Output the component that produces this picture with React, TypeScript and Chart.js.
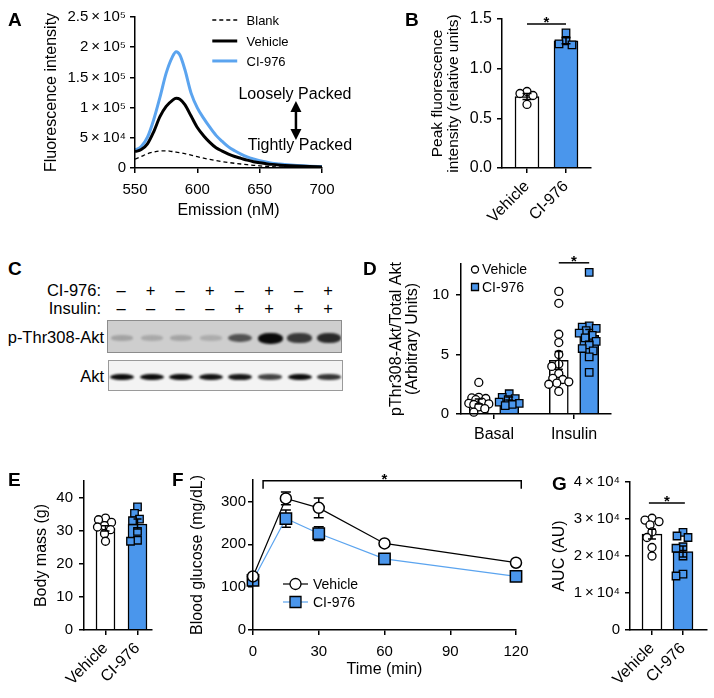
import React, { useEffect, useRef } from "react";
import { Chart, registerables } from "chart.js";

Chart.register(...registerables);

const FONT = "'Liberation Sans', Arial, Helvetica, sans-serif";
Chart.defaults.font.family = FONT;
Chart.defaults.color = "#000";

const BLUE = "#4A96EC";
const LINE_BLUE = "#5BA4EF";

// ---------- Panel A: emission spectra ----------
const wavelengths = [550, 555, 560, 565, 570, 575, 580, 583, 586, 590, 595, 600, 605, 610, 615, 620, 625, 630, 635, 640, 645, 650, 655, 660, 665, 670, 680, 690, 700];
const blankIntensity = [14500, 19000, 23500, 26500, 28300, 28500, 27300, 26300, 25300, 23800, 21300, 18700, 16300, 14200, 12300, 10600, 9100, 7800, 6600, 5500, 4500, 3600, 2800, 2200, 1700, 1300, 800, 500, 300];
const vehicleIntensity = [27000, 30500, 40000, 60000, 85000, 102000, 112000, 115500, 114000, 105000, 86000, 67000, 53500, 42500, 33500, 28000, 23000, 19000, 16000, 13000, 10500, 8600, 7200, 6000, 5000, 4300, 3200, 2400, 1800];
const ci976Intensity = [29800, 35500, 51000, 80000, 117000, 157000, 184000, 192500, 187000, 163000, 124000, 99500, 82500, 67500, 54000, 44000, 35000, 28500, 23000, 18500, 15000, 12000, 9800, 8000, 6800, 5700, 4100, 3000, 2400];
const aXTicks = [550, 600, 650, 700];
const aYTicks = [0, 50000, 100000, 150000, 200000, 250000];
const aYTickLabels = ["0", "5\u2009×\u200910⁴", "1\u2009×\u200910⁵", "1.5\u2009×\u200910⁵", "2\u2009×\u200910⁵", "2.5\u2009×\u200910⁵"];
const aLegendLabels = ["Blank", "Vehicle", "CI-976"];

// ---------- Panel B: peak fluorescence ----------
const bGroups = ["Vehicle", "CI-976"];
const bVehiclePoints = [0.77, 0.75, 0.73, 0.64];
const bCI976Points = [1.36, 1.28, 1.25, 1.24];
const bMeans = [0.72, 1.28];
const bSem = [0.03, 0.03];
const bYTicks = [0, 0.5, 1.0, 1.5];
const bYTickLabels = ["0.0", "0.5", "1.0", "1.5"];

// ---------- Panel C: western blot ----------
const ci976Lanes = ["–", "+", "–", "+", "–", "+", "–", "+"];
const insulinLanes = ["–", "–", "–", "–", "+", "+", "+", "+"];
const pAktBand = [0.34, 0.3, 0.33, 0.28, 0.72, 1.0, 0.82, 0.88];
const aktBand = [0.95, 0.95, 0.95, 0.92, 0.9, 0.72, 0.95, 0.78];

// ---------- Panel D: pAkt / total Akt ----------
const dGroups = ["Basal", "Insulin"];
const dVehicleBasal = [2.65, 1.4, 1.35, 1.3, 1.2, 1.0, 0.9, 0.85, 0.8, 0.6, 0.45, 0.15];
const dCI976Basal = [1.7, 1.4, 1.3, 1.2, 1.0, 0.9, 0.8, 0.7];
const dVehicleInsulin = [10.3, 9.3, 6.7, 6.0, 5.0, 4.2, 4.0, 3.4, 3.0, 2.9, 2.7, 2.6, 2.5, 1.9];
const dCI976Insulin = [11.9, 7.4, 7.3, 7.2, 7.0, 6.8, 6.6, 6.4, 6.1, 5.8, 5.5, 5.3, 4.8, 3.5];
const dVehicleMean = [1.05, 4.5];
const dVehicleSem = [0.2, 0.75];
const dCI976Mean = [1.3, 6.6];
const dCI976Sem = [0.12, 0.5];
const dYTicks = [0, 5, 10];
const dYTickLabels = ["0", "5", "10"];

// ---------- Panel E: body mass ----------
const eGroups = ["Vehicle", "CI-976"];
const eVehiclePoints = [33.8, 33.3, 32.5, 31.5, 31.1, 30.3, 29.1, 26.8];
const eCI976Points = [37.2, 35.2, 33.5, 33.0, 29.8, 27.1, 26.8];
const eMeans = [30.7, 32.0];
const eSem = [0.8, 1.5];
const eYTicks = [0, 10, 20, 30, 40];
const eYTickLabels = ["0", "10", "20", "30", "40"];

// ---------- Panel F: glucose tolerance ----------
const fTime = [0, 15, 30, 60, 120];
const fVehicle = [125, 307, 285, 202, 157];
const fVehicleSem = [6, 15, 23, 6, 7];
const fCI976 = [116, 260, 225, 166, 125];
const fCI976Sem = [6, 20, 16, 6, 6];
const fXTicks = [0, 30, 60, 90, 120];
const fYTicks = [0, 100, 200, 300];

// ---------- Panel G: AUC ----------
const gGroups = ["Vehicle", "CI-976"];
const gVehiclePoints = [30200, 29700, 29300, 28400, 26500, 25000, 22300, 20000];
const gCI976Points = [26400, 25400, 25000, 22500, 22100, 20000, 15100, 14600];
const gMeans = [25900, 21200];
const gSem = [1300, 1500];
const gYTicks = [0, 10000, 20000, 30000, 40000];
const gYTickLabels = ["0", "1\u2009×\u200910⁴", "2\u2009×\u200910⁴", "3\u2009×\u200910⁴", "4\u2009×\u200910⁴"];

// ---------- layout ----------
type Rect = [number, number, number, number];
type Geo = { canvas: Rect; area: [number, number, number, number] };
const GEO: Record<string, Geo> = {
  A: { canvas: [0, 0, 362, 226], area: [135, 17, 322, 168] },
  B: { canvas: [362, 0, 240, 226], area: [502, 19, 591, 168] },
  D: { canvas: [362, 226, 352, 224], area: [461, 264, 611, 414] },
  E: { canvas: [0, 452, 160, 246], area: [84, 481, 152, 630] },
  F: { canvas: [160, 452, 385, 246], area: [253, 480, 516, 630] },
  G: { canvas: [545, 452, 169, 246], area: [630, 482, 707, 630] },
};

function layoutOf(g: Geo) {
  return {
    padding: {
      left: 0,
      top: g.area[1] - g.canvas[1],
      right: g.canvas[0] + g.canvas[2] - g.area[2],
      bottom: 0,
    },
  };
}

function baseAxis(size: number, pad: number, ticks: number[], labels: string[]) {
  return {
    type: "linear",
    grid: { display: true, drawOnChartArea: false, drawTicks: true, tickLength: 5, tickWidth: 1.5, tickColor: "#000", color: "#000", lineWidth: 1.5, offset: false },
    border: { display: true, color: "#000", width: 1.5, z: 1 },
    offset: false,
    ticks: {
      color: "#000",
      font: { family: FONT, size },
      padding: pad,
      autoSkip: false,
      maxRotation: 0,
      minRotation: 0,
      callback: (v: number) => {
        const i = ticks.findIndex((t) => Math.abs(t - v) < 1e-9);
        return i >= 0 ? labels[i] : "";
      },
    },
    afterBuildTicks: (s: any) => {
      s.ticks = ticks.map((v) => ({ value: v }));
    },
  };
}

function yAxis(g: Geo, size: number, pad: number, max: number, ticks: number[], labels: string[], title: any) {
  return {
    ...baseAxis(size, pad, ticks, labels),
    min: 0,
    max,
    title,
    afterFit: (s: any) => {
      s.width = g.area[0] - g.canvas[0];
    },
  };
}

function xAxis(g: Geo, size: number, pad: number, min: number, max: number, ticks: number[], labels: string[], rotate: boolean, title?: any) {
  const a: any = baseAxis(size, pad, ticks, labels);
  if (rotate) {
    a.ticks.minRotation = 45;
    a.ticks.maxRotation = 45;
  }
  return {
    ...a,
    min,
    max,
    title: title || { display: false },
    afterFit: (s: any) => {
      s.height = g.canvas[1] + g.canvas[3] - g.area[3];
    },
  };
}

function yTitle(text: string | string[], size: number, firstCenterX: number, g: Geo, lineHeight = 1.2) {
  return {
    display: true,
    text,
    color: "#000",
    font: { family: FONT, size, lineHeight },
    padding: { top: firstCenterX - g.canvas[0] - (size * lineHeight) / 2, bottom: 0 },
  };
}

function xTitle(text: string, size: number, centerY: number, g: Geo) {
  const lh = size * 1.2;
  return {
    display: true,
    text,
    color: "#000",
    font: { family: FONT, size, lineHeight: 1.2 },
    padding: { top: 0, bottom: g.canvas[1] + g.canvas[3] - centerY - lh / 2 },
  };
}

function swarm(values: number[], cx: number, pxPerX: number, pxPerY: number, diam: number, maxHalf: number) {
  const placed: { dx: number; py: number }[] = [];
  return values.map((v) => {
    const py = v * pxPerY;
    let best = 0;
    let bestScore = -1;
    const limit = Math.floor(maxHalf);
    for (let k = 0; k <= 2 * limit; k++) {
      const dx = k === 0 ? 0 : (k % 2 === 1 ? -1 : 1) * Math.ceil(k / 2);
      let minD = Infinity;
      for (const p of placed) minD = Math.min(minD, Math.hypot(p.dx - dx, p.py - py));
      if (minD >= diam) {
        best = dx;
        bestScore = Infinity;
        break;
      }
      if (minD > bestScore) {
        bestScore = minD;
        best = dx;
      }
    }
    placed.push({ dx: best, py });
    return { x: cx + best / pxPerX, y: v };
  });
}

function drawErrorBar(ctx: CanvasRenderingContext2D, xs: any, ys: any, x: number, mean: number, sem: number, cap: number) {
  const px = xs.getPixelForValue(x);
  const t = ys.getPixelForValue(mean + sem);
  const b = ys.getPixelForValue(mean - sem);
  ctx.save();
  ctx.strokeStyle = "#000";
  ctx.lineWidth = 1.5;
  ctx.setLineDash([]);
  ctx.beginPath();
  ctx.moveTo(px, t);
  ctx.lineTo(px, b);
  ctx.moveTo(px - cap / 2, t);
  ctx.lineTo(px + cap / 2, t);
  ctx.moveTo(px - cap / 2, b);
  ctx.lineTo(px + cap / 2, b);
  ctx.stroke();
  ctx.restore();
}

type SigSpec = { x1: number; x2: number; y: number; starX: number; drop?: number };
function drawSig(ctx: CanvasRenderingContext2D, xs: any, ys: any, s: SigSpec) {
  const x1 = xs.getPixelForValue(s.x1);
  const x2 = xs.getPixelForValue(s.x2);
  const y = ys.getPixelForValue(s.y);
  ctx.save();
  ctx.strokeStyle = "#000";
  ctx.lineWidth = 1.5;
  ctx.beginPath();
  if (s.drop) {
    ctx.moveTo(x1, y + s.drop);
    ctx.lineTo(x1, y);
    ctx.lineTo(x2, y);
    ctx.lineTo(x2, y + s.drop);
  } else {
    ctx.moveTo(x1, y);
    ctx.lineTo(x2, y);
  }
  ctx.stroke();
  ctx.fillStyle = "#000";
  ctx.font = `bold 15px ${FONT}`;
  ctx.textAlign = "center";
  ctx.textBaseline = "alphabetic";
  ctx.fillText("*", xs.getPixelForValue(s.starX), y + 3);
  ctx.restore();
}

function drawMarker(ctx: CanvasRenderingContext2D, kind: string, x: number, y: number, size: number, fill: string) {
  ctx.save();
  ctx.fillStyle = fill;
  ctx.strokeStyle = "#000";
  ctx.lineWidth = 1.3;
  ctx.setLineDash([]);
  ctx.beginPath();
  if (kind === "circle") ctx.arc(x, y, size / 2, 0, Math.PI * 2);
  else ctx.rect(x - size / 2, y - size / 2, size, size);
  ctx.fill();
  ctx.stroke();
  ctx.restore();
}

// ---------- chart builders ----------
function buildA() {
  const g = GEO.A;
  const pts = (vals: number[]) => wavelengths.map((w, i) => ({ x: w, y: vals[i] }));
  const common = { pointRadius: 0, cubicInterpolationMode: "monotone", fill: false };
  return {
    type: "line",
    data: {
      datasets: [
        { label: aLegendLabels[0], data: pts(blankIntensity), borderColor: "#000", borderWidth: 1.3, borderDash: [4, 3], ...common },
        { label: aLegendLabels[1], data: pts(vehicleIntensity), borderColor: "#000", borderWidth: 3, ...common },
        { label: aLegendLabels[2], data: pts(ci976Intensity), borderColor: LINE_BLUE, borderWidth: 3, ...common },
      ],
    },
    options: {
      responsive: false,
      animation: false,
      events: [],
      layout: layoutOf(g),
      plugins: { legend: { display: false }, tooltip: { enabled: false } },
      scales: {
        x: xAxis(g, 15, 8, 550, 700, aXTicks, aXTicks.map(String), false, xTitle("Emission (nM)", 16, 211, g)),
        y: yAxis(g, 15, 4, 250000, aYTicks, aYTickLabels, yTitle("Fluorescence intensity", 16, 52, g)),
      },
    },
    plugins: [
      {
        id: "aOverlay",
        afterDraw(chart: any) {
          const { ctx } = chart;
          const xs = chart.scales.x;
          const ys = chart.scales.y;
          const rows = [
            { color: "#000", width: 1.3, dash: [4, 3], v: 245000 },
            { color: "#000", width: 3, dash: [], v: 210300 },
            { color: LINE_BLUE, width: 3, dash: [], v: 177200 },
          ];
          ctx.save();
          rows.forEach((r, i) => {
            const y = ys.getPixelForValue(r.v);
            ctx.strokeStyle = r.color;
            ctx.lineWidth = r.width;
            ctx.setLineDash(r.dash);
            ctx.beginPath();
            ctx.moveTo(xs.getPixelForValue(612), y);
            ctx.lineTo(xs.getPixelForValue(632), y);
            ctx.stroke();
            ctx.setLineDash([]);
            ctx.fillStyle = "#000";
            ctx.font = `13px ${FONT}`;
            ctx.textAlign = "left";
            ctx.textBaseline = "middle";
            ctx.fillText(aLegendLabels[i], xs.getPixelForValue(639.5), y + 1);
          });
          ctx.font = `16px ${FONT}`;
          ctx.textAlign = "center";
          ctx.textBaseline = "middle";
          ctx.fillText("Loosely Packed", xs.getPixelForValue(678.3), ys.getPixelForValue(120900));
          ctx.fillText("Tightly Packed", xs.getPixelForValue(682.3), ys.getPixelForValue(36400));
          const ax = xs.getPixelForValue(679.1);
          const top = ys.getPixelForValue(110950);
          const bot = ys.getPixelForValue(46400);
          ctx.strokeStyle = "#000";
          ctx.lineWidth = 2.5;
          ctx.beginPath();
          ctx.moveTo(ax, top + 8);
          ctx.lineTo(ax, bot - 8);
          ctx.stroke();
          ctx.beginPath();
          ctx.moveTo(ax, top);
          ctx.lineTo(ax - 5.5, top + 11);
          ctx.lineTo(ax + 5.5, top + 11);
          ctx.closePath();
          ctx.moveTo(ax, bot);
          ctx.lineTo(ax - 5.5, bot - 11);
          ctx.lineTo(ax + 5.5, bot - 11);
          ctx.closePath();
          ctx.fill();
          ctx.restore();
        },
      },
    ],
  };
}

type BarSpec = { x: number; mean: number; sem: number; points: number[]; fill: string; marker: string };
type BarPanel = {
  g: Geo;
  xZero: number;
  xOne: number;
  bars: BarSpec[];
  thickness: number;
  xTicks: number[];
  xLabels: string[];
  xFont: number;
  xPad: number;
  rotate: boolean;
  yMax: number;
  yTicks: number[];
  yLabels: string[];
  yFont: number;
  yPad: number;
  title: any;
  cap: number;
  sig?: SigSpec;
  legend?: boolean;
};

function buildBars(p: BarPanel) {
  const g = p.g;
  const pxPerX = p.xOne - p.xZero;
  const xMin = -(p.xZero - g.area[0]) / pxPerX;
  const xMax = xMin + (g.area[2] - g.area[0]) / pxPerX;
  const pxPerY = (g.area[3] - g.area[1]) / p.yMax;
  const scatterSets = p.bars.map((b) => ({
    type: "scatter",
    order: 1,
    clip: false,
    data: swarm(b.points, b.x, pxPerX, pxPerY, 7, p.thickness / 2 + 1),
    pointStyle: b.marker,
    pointRadius: b.marker === "rect" ? 5.3 : 4,
    pointBackgroundColor: b.marker === "rect" ? BLUE : "#fff",
    pointBorderColor: "#000",
    pointBorderWidth: 1.3,
  }));
  const barSets = p.bars.map((b) => ({
    type: "bar",
    order: 2,
    data: [{ x: b.x, y: b.mean }],
    backgroundColor: b.fill,
    borderColor: "#000",
    borderWidth: 1.5,
    borderSkipped: "start",
    barThickness: p.thickness,
    grouped: false,
  }));
  return {
    type: "bar",
    data: { datasets: [...scatterSets, ...barSets] },
    options: {
      responsive: false,
      animation: false,
      events: [],
      layout: layoutOf(g),
      plugins: { legend: { display: false }, tooltip: { enabled: false } },
      scales: {
        x: xAxis(g, p.xFont, p.xPad, xMin, xMax, p.xTicks, p.xLabels, p.rotate),
        y: yAxis(g, p.yFont, p.yPad, p.yMax, p.yTicks, p.yLabels, p.title),
      },
    },
    plugins: [
      {
        id: "barExtras",
        afterDatasetsDraw(chart: any) {
          const { ctx } = chart;
          const xs = chart.scales.x;
          const ys = chart.scales.y;
          p.bars.forEach((b) => drawErrorBar(ctx, xs, ys, b.x, b.mean, b.sem, p.cap));
          if (p.sig) drawSig(ctx, xs, ys, p.sig);
          if (p.legend) {
            const a = chart.chartArea;
            const rows = [
              { kind: "circle", fill: "#fff", label: "Vehicle", dy: 5.5, size: 7 },
              { kind: "rect", fill: BLUE, label: "CI-976", dy: 23, size: 7 },
            ];
            rows.forEach((r) => {
              drawMarker(ctx, r.kind, a.left + 14, a.top + r.dy, r.size, r.fill);
              ctx.save();
              ctx.fillStyle = "#000";
              ctx.font = `14px ${FONT}`;
              ctx.textAlign = "left";
              ctx.textBaseline = "middle";
              ctx.fillText(r.label, a.left + 21, a.top + r.dy + 1);
              ctx.restore();
            });
          }
        },
      },
    ],
  };
}

function buildB() {
  const g = GEO.B;
  return buildBars({
    g,
    xZero: 527,
    xOne: 566,
    bars: [
      { x: 0, mean: bMeans[0], sem: bSem[0], points: bVehiclePoints, fill: "#fff", marker: "circle" },
      { x: 1, mean: bMeans[1], sem: bSem[1], points: bCI976Points, fill: BLUE, marker: "rect" },
    ],
    thickness: 24,
    xTicks: [0, 1],
    xLabels: bGroups,
    xFont: 16,
    xPad: 4,
    rotate: true,
    yMax: 1.5,
    yTicks: bYTicks,
    yLabels: bYTickLabels,
    yFont: 16,
    yPad: 5,
    title: yTitle(["Peak fluorescence", "intensity (relative units)"], 15.5, 438, g, 1.0),
    cap: 9,
    sig: { x1: 0, x2: 1, y: 1.45, starX: 0.5 },
  });
}

function buildD() {
  const g = GEO.D;
  return buildBars({
    g,
    xZero: 494,
    xOne: 574,
    bars: [
      { x: -0.19, mean: dVehicleMean[0], sem: dVehicleSem[0], points: dVehicleBasal, fill: "#fff", marker: "circle" },
      { x: 0.19, mean: dCI976Mean[0], sem: dCI976Sem[0], points: dCI976Basal, fill: BLUE, marker: "rect" },
      { x: 0.81, mean: dVehicleMean[1], sem: dVehicleSem[1], points: dVehicleInsulin, fill: "#fff", marker: "circle" },
      { x: 1.19, mean: dCI976Mean[1], sem: dCI976Sem[1], points: dCI976Insulin, fill: BLUE, marker: "rect" },
    ],
    thickness: 19,
    xTicks: [0, 1],
    xLabels: dGroups,
    xFont: 16,
    xPad: 6,
    rotate: false,
    yMax: 12.6,
    yTicks: dYTicks,
    yLabels: dYTickLabels,
    yFont: 15,
    yPad: 7,
    title: yTitle(["pThr308-Akt/Total Akt", "(Arbitrary Units)"], 16, 397, g, 1.0),
    cap: 8,
    sig: { x1: 0.81, x2: 1.19, y: 12.7, starX: 1.0 },
    legend: true,
  });
}

function buildE() {
  const g = GEO.E;
  return buildBars({
    g,
    xZero: 105.5,
    xOne: 137.5,
    bars: [
      { x: 0, mean: eMeans[0], sem: eSem[0], points: eVehiclePoints, fill: "#fff", marker: "circle" },
      { x: 1, mean: eMeans[1], sem: eSem[1], points: eCI976Points, fill: BLUE, marker: "rect" },
    ],
    thickness: 19,
    xTicks: [0, 1],
    xLabels: eGroups,
    xFont: 16,
    xPad: 4,
    rotate: true,
    yMax: 45,
    yTicks: eYTicks,
    yLabels: eYTickLabels,
    yFont: 15,
    yPad: 6,
    title: yTitle("Body mass (g)", 16, 42, g),
    cap: 8,
  });
}

function buildG() {
  const g = GEO.G;
  return buildBars({
    g,
    xZero: 652,
    xOne: 683,
    bars: [
      { x: 0, mean: gMeans[0], sem: gSem[0], points: gVehiclePoints, fill: "#fff", marker: "circle" },
      { x: 1, mean: gMeans[1], sem: gSem[1], points: gCI976Points, fill: BLUE, marker: "rect" },
    ],
    thickness: 20,
    xTicks: [0, 1],
    xLabels: gGroups,
    xFont: 16,
    xPad: 4,
    rotate: true,
    yMax: 40000,
    yTicks: gYTicks,
    yLabels: gYTickLabels,
    yFont: 15,
    yPad: 5,
    title: yTitle("AUC (AU)", 16, 560, g),
    cap: 8,
    sig: { x1: -0.1, x2: 1.06, y: 34300, starX: 0.48 },
  });
}

function buildF() {
  const g = GEO.F;
  return {
    type: "line",
    data: {
      datasets: [
        {
          label: "Vehicle",
          data: fTime.map((t, i) => ({ x: t, y: fVehicle[i] })),
          borderColor: "#000",
          borderWidth: 1.2,
          pointStyle: "circle",
          pointRadius: 5.5,
          pointBackgroundColor: "#fff",
          pointBorderColor: "#000",
          pointBorderWidth: 1.5,
          clip: false,
          tension: 0,
        },
        {
          label: "CI-976",
          data: fTime.map((t, i) => ({ x: t, y: fCI976[i] })),
          borderColor: LINE_BLUE,
          borderWidth: 1.2,
          pointStyle: "rect",
          pointRadius: 8,
          pointBackgroundColor: BLUE,
          pointBorderColor: "#000",
          pointBorderWidth: 1.5,
          clip: false,
          tension: 0,
        },
      ],
    },
    options: {
      responsive: false,
      animation: false,
      events: [],
      layout: layoutOf(g),
      plugins: { legend: { display: false }, tooltip: { enabled: false } },
      scales: {
        x: xAxis(g, 15, 8, 0, 120, fXTicks, fXTicks.map(String), false, xTitle("Time (min)", 16, 670, g)),
        y: yAxis(g, 15, 2, 350, fYTicks, fYTicks.map(String), yTitle("Blood glucose (mg/dL)", 16, 198, g)),
      },
    },
    plugins: [
      {
        id: "fExtras",
        beforeDatasetsDraw(chart: any) {
          const { ctx } = chart;
          const xs = chart.scales.x;
          const ys = chart.scales.y;
          fTime.forEach((t, i) => {
            drawErrorBar(ctx, xs, ys, t, fCI976[i], fCI976Sem[i], 10);
            drawErrorBar(ctx, xs, ys, t, fVehicle[i], fVehicleSem[i], 10);
          });
        },
        afterDraw(chart: any) {
          const { ctx } = chart;
          const xs = chart.scales.x;
          const ys = chart.scales.y;
          drawSig(ctx, xs, ys, { x1: 4.6, x2: 122.4, y: 348, starX: 60, drop: 8 });
          const a = chart.chartArea;
          const rows = [
            { color: "#000", kind: "circle", fill: "#fff", size: 11, label: "Vehicle", dy: 104 },
            { color: LINE_BLUE, kind: "rect", fill: BLUE, size: 11, label: "CI-976", dy: 122 },
          ];
          rows.forEach((r) => {
            const y = a.top + r.dy;
            ctx.save();
            ctx.strokeStyle = r.color;
            ctx.lineWidth = 1.2;
            ctx.beginPath();
            ctx.moveTo(a.left + 30, y);
            ctx.lineTo(a.left + 55, y);
            ctx.stroke();
            ctx.restore();
            drawMarker(ctx, r.kind, a.left + 42.5, y, r.size, r.fill);
            ctx.save();
            ctx.fillStyle = "#000";
            ctx.font = `14px ${FONT}`;
            ctx.textAlign = "left";
            ctx.textBaseline = "middle";
            ctx.fillText(r.label, a.left + 60, y + 1);
            ctx.restore();
          });
        },
      },
    ],
  };
}

function ChartCanvas({ rect, build }: { rect: Rect; build: () => any }) {
  const ref = useRef<HTMLCanvasElement | null>(null);
  useEffect(() => {
    if (!ref.current) return;
    const chart = new Chart(ref.current, build() as any);
    return () => chart.destroy();
  }, []);
  return (
    <div style={{ position: "absolute", left: rect[0], top: rect[1], width: rect[2], height: rect[3] }}>
      <canvas ref={ref} width={rect[2]} height={rect[3]} style={{ display: "block", width: rect[2], height: rect[3] }} />
    </div>
  );
}

const textBase: React.CSSProperties = {
  position: "absolute",
  fontFamily: FONT,
  fontSize: 16.5,
  lineHeight: "20px",
  color: "#000",
  whiteSpace: "nowrap",
};

function Blot() {
  const laneX = (i: number) => 121 + i * 29.6;
  const pBox = { left: 107, top: 320, width: 235, height: 33 };
  const aBox = { left: 108, top: 360, width: 235, height: 31 };
  return (
    <>
      <div style={{ ...textBase, left: 0, top: 280, width: 101, textAlign: "right" }}>CI-976:</div>
      <div style={{ ...textBase, left: 0, top: 298, width: 101, textAlign: "right" }}>Insulin:</div>
      {ci976Lanes.map((s, i) => (
        <div key={"c" + i} style={{ ...textBase, left: laneX(i) - 10, top: 280, width: 20, textAlign: "center" }}>
          {s}
        </div>
      ))}
      {insulinLanes.map((s, i) => (
        <div key={"i" + i} style={{ ...textBase, left: laneX(i) - 10, top: 298, width: 20, textAlign: "center" }}>
          {s}
        </div>
      ))}
      <div style={{ ...textBase, left: 0, top: 327, width: 104, textAlign: "right" }}>p-Thr308-Akt</div>
      <div
        style={{
          position: "absolute",
          ...pBox,
          background: "#cecece",
          border: "1px solid #8c8c8c",
          boxSizing: "border-box",
          overflow: "hidden",
        }}
      >
        {pAktBand.map((v, i) => {
          const w = 21 + v * 4;
          const h = 3 + v * 8;
          return (
            <div
              key={i}
              style={{
                position: "absolute",
                left: laneX(i) - pBox.left - w / 2,
                top: 17 - h / 2,
                width: w,
                height: h,
                borderRadius: "45%",
                background: "#000",
                opacity: Math.pow(v, 1.4) * 0.95,
                filter: "blur(1.3px)",
              }}
            />
          );
        })}
      </div>
      <div style={{ ...textBase, left: 0, top: 366, width: 104, textAlign: "right" }}>Akt</div>
      <div
        style={{
          position: "absolute",
          ...aBox,
          background: "#f3f3f3",
          border: "1px solid #9a9a9a",
          boxSizing: "border-box",
          overflow: "hidden",
        }}
      >
        {aktBand.map((v, i) => {
          const w = 24;
          const h = 3 + v * 4;
          return (
            <div
              key={i}
              style={{
                position: "absolute",
                left: laneX(i) - aBox.left - w / 2,
                top: 16 - h / 2,
                width: w,
                height: h,
                borderRadius: "45%",
                background: "#000",
                opacity: v,
                filter: "blur(1px)",
              }}
            />
          );
        })}
      </div>
    </>
  );
}

const PANEL_LETTERS: [string, number, number][] = [
  ["A", 8, 10],
  ["B", 405, 10],
  ["C", 8, 259],
  ["D", 363, 259],
  ["E", 8, 470],
  ["F", 172, 470],
  ["G", 552, 474],
];

export default function App() {
  useEffect(() => {
    document.body.style.margin = "0";
  }, []);
  return (
    <div style={{ position: "absolute", left: 0, top: 0, width: 714, height: 698, background: "#fff", overflow: "hidden", fontFamily: FONT }}>
      <ChartCanvas rect={GEO.A.canvas} build={buildA} />
      <ChartCanvas rect={GEO.B.canvas} build={buildB} />
      <ChartCanvas rect={GEO.D.canvas} build={buildD} />
      <ChartCanvas rect={GEO.E.canvas} build={buildE} />
      <ChartCanvas rect={GEO.F.canvas} build={buildF} />
      <ChartCanvas rect={GEO.G.canvas} build={buildG} />
      <Blot />
      {PANEL_LETTERS.map(([t, x, y]) => (
        <div key={t} style={{ position: "absolute", left: x, top: y, fontFamily: FONT, fontWeight: 700, fontSize: 19, lineHeight: "19px", color: "#000" }}>
          {t}
        </div>
      ))}
    </div>
  );
}
